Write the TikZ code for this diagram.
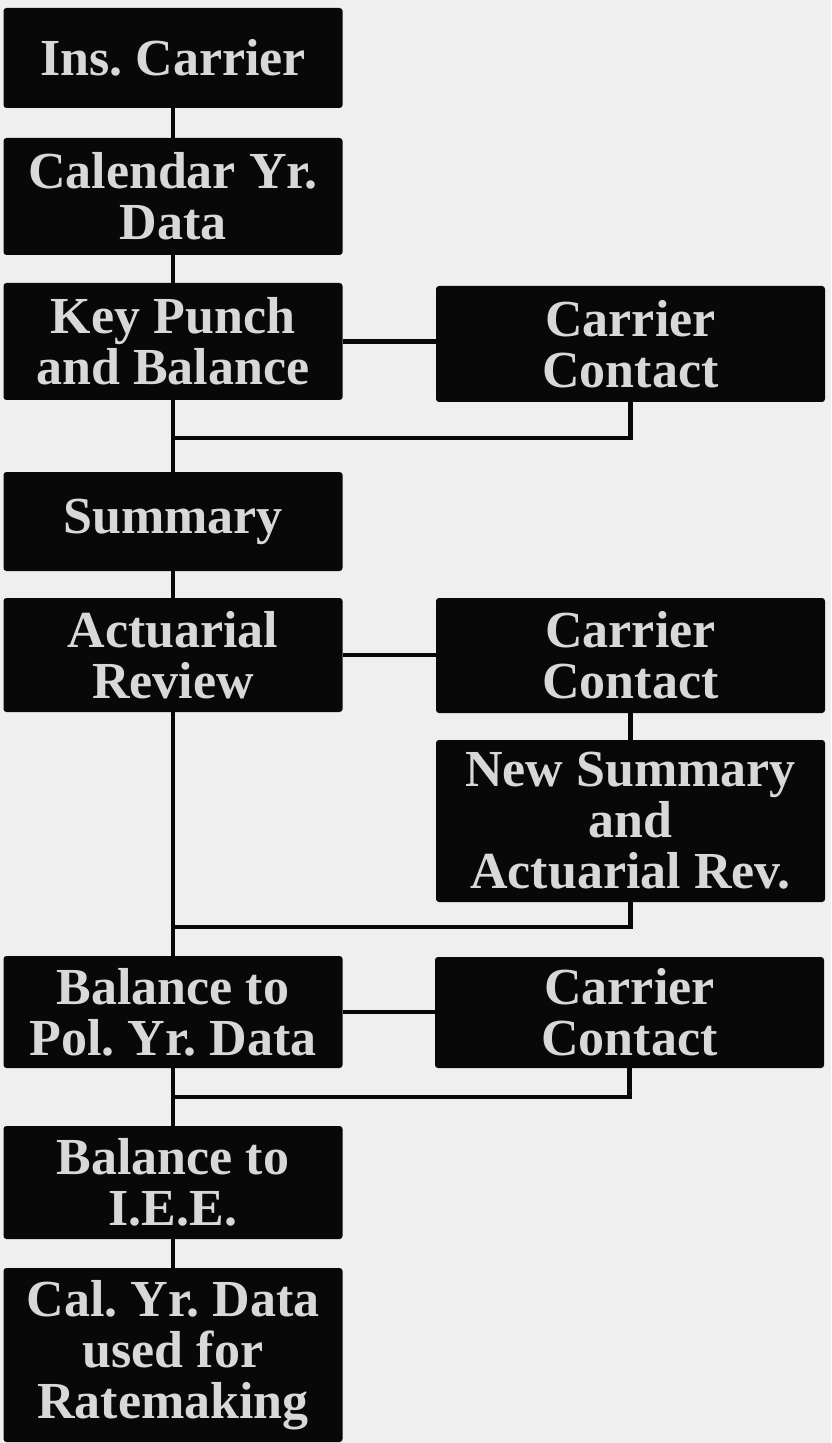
\documentclass[tikz,border=0pt]{standalone}
\usepackage{fontspec}
\setmainfont{Liberation Serif}
\frenchspacing
\definecolor{bgcol}{HTML}{EFEFEF}
\definecolor{boxblack}{HTML}{080808}
\definecolor{boxtext}{HTML}{D8D8D8}
\begin{document}
\begin{tikzpicture}[x=0.5pt,y=-0.5pt,
  box/.style={rectangle, fill=boxblack, rounded corners=1.5pt, text=boxtext,
    font=\bfseries\fontsize{26}{25.5}\selectfont, align=center, inner sep=0pt},
  leftbox/.style={box, minimum width=169.5pt},
  rightbox/.style={box, minimum width=194.5pt},
  link/.style={draw=boxblack, line width=2.2pt}]
\fill[bgcol] (0,0) rectangle (831,1443);
\useasboundingbox (0,0) rectangle (831,1443);
% left column
\node[leftbox, minimum height=50pt]   (a) at (173,58)    {Ins. Carrier};
\node[leftbox, minimum height=58.5pt] (b) at (173,196.5) {Calendar Yr.\\Data};
\node[leftbox, minimum height=58.5pt] (c) at (173,341.5) {Key Punch\\and Balance};
\node[leftbox, minimum height=49.5pt] (d) at (173,521.5) {Summary};
\node[leftbox, minimum height=57pt]   (e) at (173,655)   {Actuarial\\Review};
\node[leftbox, minimum height=56pt]   (f) at (173,1012)  {Balance to\\Pol. Yr. Data};
\node[leftbox, minimum height=56.5pt] (g) at (173,1182.5){Balance to\\I.E.E.};
\node[leftbox, minimum height=87pt]   (h) at (173,1355)  {Cal. Yr. Data\\used for\\Ratemaking};
% right column
\node[rightbox, minimum height=58pt]  (r1) at (630.5,344)   {Carrier\\Contact};
\node[rightbox, minimum height=57.5pt](r2) at (630.5,655.5) {Carrier\\Contact};
\node[rightbox, minimum height=81pt]  (r3) at (630.5,821)   {New Summary\\and\\Actuarial Rev.};
\node[rightbox, minimum height=55.5pt](r4) at (629.5,1012.5){Carrier\\Contact};
% junction points
\coordinate (j1) at (173,438);
\coordinate (j2) at (173,927);
\coordinate (j3) at (173,1097);
% connectors
\draw[link] (a.south) -- (b.north);
\draw[link] (b.south) -- (c.north);
\draw[link] (c.east) -- (c.east -| r1.west);
\draw[link] (c.south) -- (d.north);
\draw[link] (r1.south) |- (j1);
\draw[link] (d.south) -- (e.north);
\draw[link] (e.east) -- (e.east -| r2.west);
\draw[link] (r2.south) -- (r3.north);
\draw[link] (e.south) -- (f.north);
\draw[link] (r3.south) |- (j2);
\draw[link] (f.east) -- (f.east -| r4.west);
\draw[link] (f.south) -- (g.north);
\draw[link] (r4.south) |- (j3);
\draw[link] (g.south) -- (h.north);
\end{tikzpicture}
\end{document}
